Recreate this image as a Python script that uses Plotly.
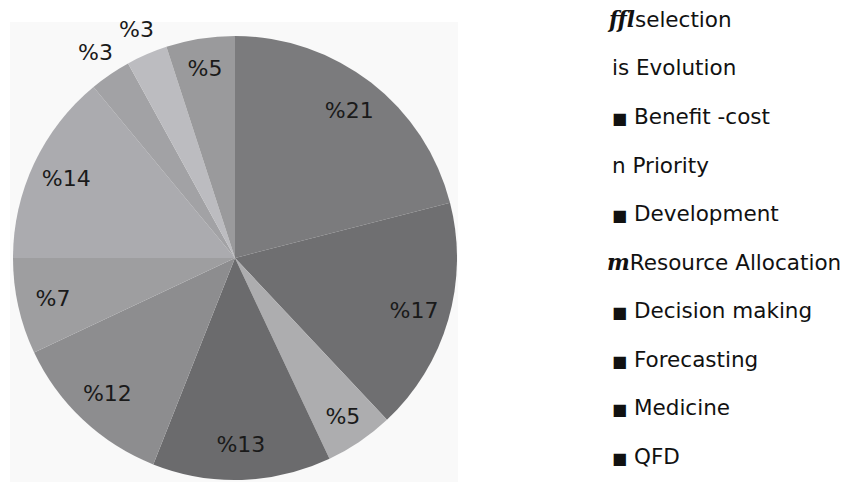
import math
import plotly.graph_objects as go

labels = ["selection", "Evolution", "Benefit -cost", "Priority", "Development",
          "Resource Allocation", "Decision making", "Forecasting", "Medicine", "QFD"]
values = [21, 17, 5, 13, 12, 7, 14, 3, 3, 5]
colors = ["#7b7b7d", "#6f6f71", "#adadaf", "#6b6b6d", "#8d8d8f",
          "#9e9ea0", "#ababaf", "#a2a2a5", "#bcbcc0", "#9a9a9c"]
outside = [False, False, False, False, False, False, False, True, True, False]
SQ = '<span style="font-size:16px">■</span> '
legend_marks = ['<span style="font-family:\'DejaVu Serif\'"><b><i>ﬀl</i></b></span>',
                "is ", SQ, "n ", SQ,
                '<span style="font-family:\'DejaVu Serif\'"><b><i>m</i></b></span>',
                SQ, SQ, SQ, SQ]
legend_x = [605, 610, 610, 610, 610, 605, 610, 610, 610, 610]

W, H = 848, 482
CX, CY, R = 235, 258, 222
cx0, cx1 = (CX - R) / W, (CX + R) / W
cy0, cy1 = 1 - (CY + R) / H, 1 - (CY - R) / H

fig = go.Figure()
fig.add_trace(go.Pie(
    labels=labels, values=values, sort=False, direction="clockwise", rotation=0,
    marker=dict(colors=colors, line=dict(width=0)),
    textinfo="none", hoverinfo="skip", showlegend=False,
    domain=dict(x=[cx0, cx1], y=[cy0, cy1]),
))
fig.add_trace(go.Pie(
    labels=labels, values=values, sort=False, direction="clockwise", rotation=0,
    hole=0.68,
    marker=dict(colors=["rgba(0,0,0,0)"] * len(values), line=dict(width=0)),
    text=["" if o else "%" + str(v) for v, o in zip(values, outside)],
    textinfo="text", textposition="inside", insidetextorientation="horizontal",
    textfont=dict(family="DejaVu Sans", size=22, color="#1a1a1a"),
    hoverinfo="skip", showlegend=False,
    domain=dict(x=[cx0, cx1], y=[cy0, cy1]),
))

ann = []
# outside labels for thin slices, placed along each slice's mid angle
total = sum(values)
cum = 0
for v, o in zip(values, outside):
    mid = (cum + v / 2) / total * 2 * math.pi
    cum += v
    if not o:
        continue
    rr = R * 1.12
    ann.append(dict(
        x=(CX + rr * math.sin(mid)) / W, y=1 - (CY - rr * math.cos(mid)) / H,
        xref="paper", yref="paper", xanchor="center", yanchor="middle",
        showarrow=False, text="%" + str(v),
        font=dict(family="DejaVu Sans", size=22, color="#1a1a1a"),
    ))

for i, (m, lab) in enumerate(zip(legend_marks, labels)):
    ann.append(dict(
        x=legend_x[i] / W, y=1 - (19.5 + 48.5 * i) / H, xref="paper", yref="paper",
        xanchor="left", yanchor="middle", showarrow=False,
        text=m + lab,
        font=dict(family="DejaVu Sans", size=21.5, color="#111111"),
    ))

fig.update_layout(
    width=W, height=H, margin=dict(l=0, r=0, t=0, b=0),
    paper_bgcolor="white", plot_bgcolor="white",
    annotations=ann,
    shapes=[dict(type="rect", xref="paper", yref="paper", x0=10 / W, x1=458 / W,
                 y0=0, y1=1 - 22 / H, fillcolor="#f9f9f9", line=dict(width=0),
                 layer="below")],
)
fig.write_html("out.html", config={"displayModeBar": False},
               post_script="document.body.style.margin='0';")
